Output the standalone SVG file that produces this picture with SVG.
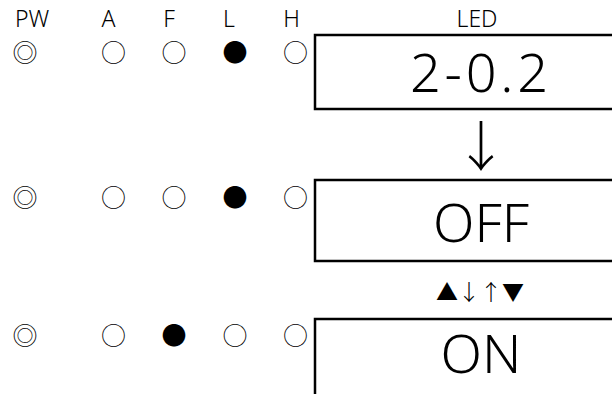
<svg xmlns="http://www.w3.org/2000/svg" width="612" height="394" viewBox="0 0 612 394">
<style>
text{fill:#000;text-anchor:middle;font-weight:300}
.hd{font-family:"Noto Sans",sans-serif;font-size:23px}
.led{font-family:"Noto Sans CJK KR",sans-serif;font-size:25px}
.sym{font-family:"Noto Sans CJK KR",sans-serif;font-size:22px}
.big{font-family:"Noto Sans",sans-serif;font-size:54px}
.arr{font-family:"Noto Sans CJK KR",sans-serif;font-size:54px}
.box{fill:#fff;stroke:#000;stroke-width:2.5}
</style>
<g id="header">
<text class="hd" x="32" y="27">PW</text>
<text class="hd" x="108.5" y="27">A</text>
<text class="hd" x="169" y="27">F</text>
<text class="hd" x="229" y="27">L</text>
<text class="hd" x="291.5" y="27">H</text>
<text class="hd" x="477" y="27">LED</text>
</g>
<g id="row1">
<text class="led" x="25" y="62">◎</text>
<text class="led" x="113.5" y="62">○</text>
<text class="led" x="174" y="62">○</text>
<text class="led" x="235" y="62">●</text>
<text class="led" x="295.5" y="62">○</text>
</g>
<g id="box1">
<rect class="box" x="315" y="35" width="310" height="74"/>
<text class="big" x="479" y="92" textLength="138" lengthAdjust="spacing">2-0.2</text>
</g>
<g id="row2">
<text class="led" x="25" y="207">◎</text>
<text class="led" x="113.5" y="207">○</text>
<text class="led" x="174" y="207">○</text>
<text class="led" x="235" y="207">●</text>
<text class="led" x="295.5" y="207">○</text>
</g>
<g id="box2">
<rect class="box" x="315" y="180" width="310" height="81"/>
<text class="big" x="481" y="242">OFF</text>
</g>
<g id="row3">
<text class="led" x="25" y="345">◎</text>
<text class="led" x="113.5" y="345">○</text>
<text class="led" x="174" y="345">●</text>
<text class="led" x="235" y="345">○</text>
<text class="led" x="295.5" y="345">○</text>
</g>
<g id="box3">
<rect class="box" x="315" y="319" width="310" height="90"/>
<text class="big" x="481" y="373">ON</text>
</g>
<g id="connectors">
<text class="arr" x="481" y="167">↓</text>
<text class="sym" x="480" y="300">▲↓↑▼</text>
</g>
</svg>
